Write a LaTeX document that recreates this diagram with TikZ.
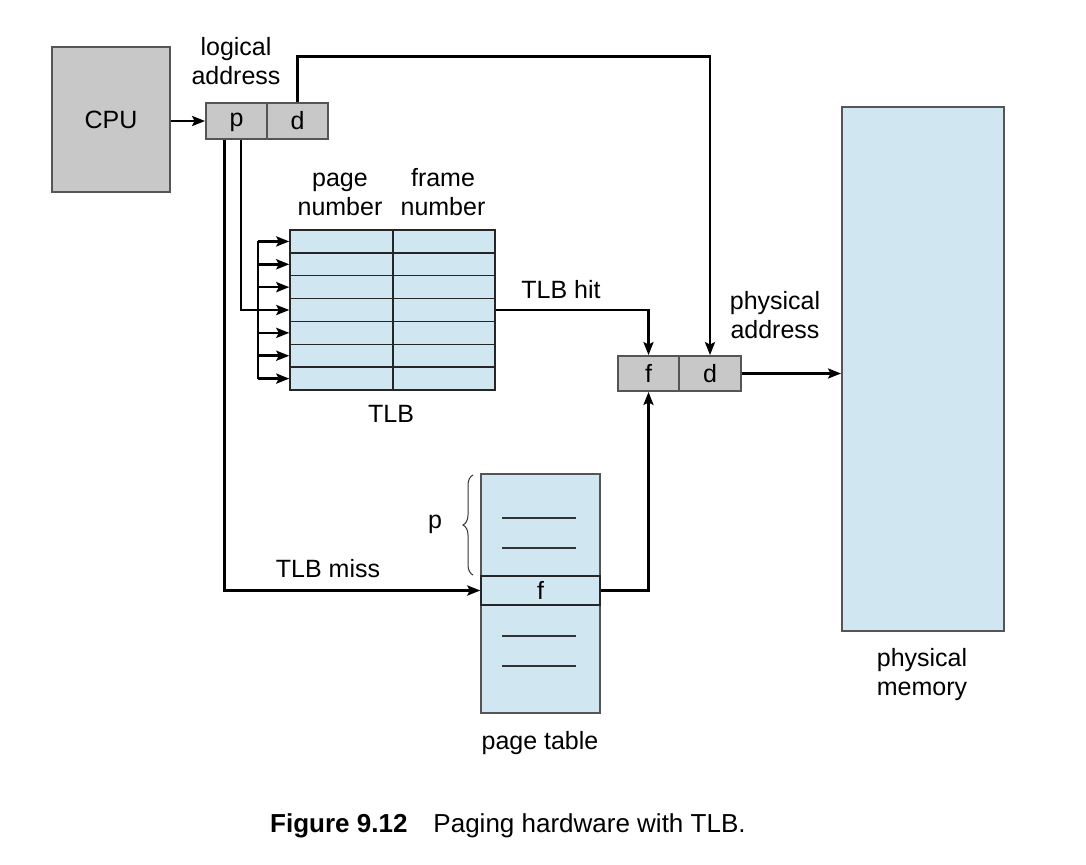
\documentclass[tikz,border=0pt]{standalone}
\usepackage{fontspec}
\setmainfont{Liberation Sans}
\usetikzlibrary{arrows.meta,decorations.pathreplacing,calc}
\definecolor{boxgray}{HTML}{C8C8C8}
\definecolor{lightblue}{HTML}{D0E6F0}
\definecolor{edgegray}{HTML}{555555}
\tikzset{
  lbl/.style={font=\fontsize{25}{29}\selectfont, align=center, inner sep=0pt},
  graybox/.style={draw=edgegray, line width=1.8pt, fill=boxgray, inner sep=0pt, font=\fontsize{25}{29}\selectfont},
  bluebox/.style={draw=edgegray, line width=1.8pt, fill=lightblue, inner sep=0pt},
  tlbcell/.style={draw=black!85, line width=1.4pt, fill=lightblue, inner sep=0pt, minimum height=22.86pt},
  conn/.style={line width=2.6pt, black},
  arr/.style={conn, -{Stealth[length=13pt,width=10pt,inset=2.5pt]}},
}
\begin{document}
\begin{tikzpicture}[x=1pt,y=-1pt]
\useasboundingbox (0,0) rectangle (1086,864);
% CPU
\node[graybox, minimum width=118pt, minimum height=145pt] (cpu) at (111,119.5) {CPU};
% logical address
\node[graybox, minimum width=61pt, minimum height=36pt, text height=12pt, text depth=0pt] (lp) at (236.5,121) {p};
\node[graybox, minimum width=61pt, minimum height=36pt] (ld) at (297.5,121) {d};
\node[lbl] (la) at (236,64) {logical\strut\\address\strut};
% physical address
\node[graybox, minimum width=61pt, minimum height=35pt] (pf) at (648.5,373.5) {f};
\node[graybox, minimum width=62pt, minimum height=35pt] (pd) at (710,373.5) {d};
\node[lbl] (pa) at (775,318.5) {physical\strut\\address\strut};
% physical memory
\node[bluebox, minimum width=162pt, minimum height=524pt] (mem) at (923,369) {};
\node[lbl] (ml) at (922,675.5) {physical\strut\\memory\strut};
% TLB
\foreach \i in {1,...,7}{
  \node[tlbcell, minimum width=103pt] (tl\i) at (341.5,{230+(\i-0.5)*22.86}) {};
  \node[tlbcell, minimum width=102pt] (tr\i) at (444,{230+(\i-0.5)*22.86}) {};
}
\node[lbl] (pn) at (340,195) {page\strut\\number\strut};
\node[lbl] (fn) at (443,195) {frame\strut\\number\strut};
\node[lbl] (tlbl) at (391,414) {TLB};
% page table
\node[bluebox, minimum width=119pt, minimum height=239pt] (pt) at (540.5,593.5) {};
\node[draw=black!85, line width=1.4pt, fill=lightblue, minimum width=119pt, minimum height=29pt, inner sep=0pt, font=\fontsize{25}{29}\selectfont] (ptf) at (540.5,590.5) {f};
\foreach \y in {518,548,636,666}{
  \draw[line width=1.3pt, black!80] (502,\y) -- (576,\y);
}
\node[lbl] (ptl) at (540,743) {page table};
\draw[line width=1pt, black!80, decorate, decoration={brace, amplitude=10pt}] (473,575) -- (473,475);
\node[lbl] (plbl) at (435,524) {p};
% connectors
\draw[arr] (cpu.east |- lp.west) -- (lp.west);
\draw[arr] (ld.north) -- ++(0,-45.5) -| (pd.north);
\coordinate (bus) at (258,0);
\draw[conn] (bus |- tl1) -- (bus |- tl7);
\foreach \i in {1,...,7}{
  \draw[arr] (bus |- tl\i) -- (tl\i.west);
}
\draw[conn] ([xshift=4.5pt]lp.south) |- (bus |- tl4);
\draw[arr] ([xshift=-12pt]lp.south) |- (ptf.west);
\node[lbl] (miss) at (328,569) {TLB miss};
\draw[arr] (tr4.east) -| (pf.north);
\node[lbl] (hit) at (561,290) {TLB hit};
\draw[arr] (ptf.east) -| (pf.south);
\draw[arr] (pd.east) -- (pd.east -| mem.west);
% caption
\node[font=\fontsize{26}{30}\selectfont, anchor=west, inner sep=0pt] (cap) at (270,826) {\textbf{Figure 9.12}\hspace{1em}Paging hardware with TLB.};
\end{tikzpicture}
\end{document}
